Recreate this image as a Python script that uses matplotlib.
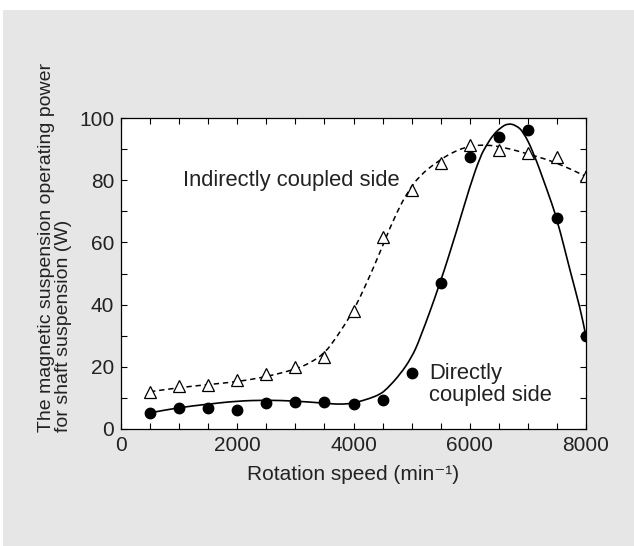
import matplotlib.pyplot as plt
from matplotlib.patches import Rectangle, PathPatch
from matplotlib.path import Path

plt.rcParams['font.family'] = ['Liberation Sans', 'DejaVu Sans']

# measured points
speed = [500, 1000, 1500, 2000, 2500, 3000, 3500, 4000,
         4500, 5000, 5500, 6000, 6500, 7000, 7500, 8000]
indirect = [12.0, 13.8, 14.1, 15.8, 17.7, 20.0, 23.2, 38.0,
            61.6, 76.8, 85.4, 91.3, 89.7, 88.8, 87.5, 81.3]
direct_speed = [500, 1000, 1500, 2000, 2500, 3000, 3500, 4000,
                4500, 5500, 6000, 6500, 7000, 7500, 8000]
direct = [5.0, 6.6, 6.6, 6.1, 8.3, 8.8, 8.8, 8.0,
          9.3, 47.0, 87.5, 94.0, 96.0, 68.0, 30.0]

# fitted curves
ind_curve_x = [500, 1000, 1500, 2000, 2500, 3000, 3250, 3500, 3710, 4000,
               4230, 4460, 4690, 4920, 5140, 5430, 5720, 6000, 6290, 6580,
               7040, 7500, 7990]
ind_curve_y = [12.0, 13.3, 14.3, 15.2, 16.8, 19.2, 21.2, 24.3, 29.5, 38.0,
               47.0, 57.0, 67.5, 76.0, 81.5, 85.8, 89.2, 91.0, 91.4, 90.6,
               88.3, 85.6, 81.3]
dir_curve_x = [500, 1000, 1500, 2000, 2500, 3000, 3500, 3770, 4000, 4280,
               4460, 4570, 4800, 5000, 5140, 5490, 5780, 6000, 6180, 6290,
               6400, 6530, 6660, 6800, 6920, 7090, 7320, 7500, 7730, 7900,
               7995]
dir_curve_y = [5.2, 6.9, 8.0, 9.0, 9.3, 9.0, 8.3, 7.9, 8.3, 9.8,
               11.2, 12.8, 17.5, 23.0, 28.8, 46.8, 64.0, 77.9, 87.6, 91.3,
               94.5, 96.9, 98.3, 97.6, 95.6, 89.2, 77.4, 67.7, 50.6, 38.8,
               30.2]


def smooth_path(xs, ys):
    # quadratic bezier through midpoints, read points used as control points
    pts = list(zip(xs, ys))
    verts = [pts[0]]
    codes = [Path.MOVETO]
    mid = lambda a, b: ((a[0] + b[0]) / 2, (a[1] + b[1]) / 2)
    verts.append(mid(pts[0], pts[1]))
    codes.append(Path.LINETO)
    for i in range(1, len(pts) - 1):
        verts += [pts[i], mid(pts[i], pts[i + 1])]
        codes += [Path.CURVE3, Path.CURVE3]
    verts.append(pts[-1])
    codes.append(Path.LINETO)
    return Path(verts, codes)


fig = plt.figure(figsize=(6.34, 5.46), dpi=100)
fig.patch.set_facecolor('white')
fig.patches.append(Rectangle((3 / 634, 0), 1, 1 - 10 / 546, transform=fig.transFigure,
                             facecolor='#e6e6e6', edgecolor='none', zorder=-10))

ax = fig.add_axes([121 / 634, 1 - 429 / 546, 465 / 634, 311 / 546])
ax.set_facecolor('white')

tc = '#222222'
ax.add_patch(PathPatch(smooth_path(ind_curve_x, ind_curve_y), fill=False,
                       edgecolor='black', lw=1.1, linestyle=(0, (3.5, 2.5))))
ax.add_patch(PathPatch(smooth_path(dir_curve_x, dir_curve_y), fill=False,
                       edgecolor='black', lw=1.2))
ax.plot(speed, indirect, '^', mfc='white', mec='black', ms=9, mew=0.9, ls='none')
ax.plot(direct_speed, direct, 'o', color='black', ms=7.5, ls='none')

ax.set_xlim(0, 8000)
ax.set_ylim(0, 100)
ax.set_xticks(range(0, 8001, 2000))
ax.set_xticks(range(0, 8001, 500), minor=True)
ax.set_yticks(range(0, 101, 20))
ax.set_yticks(range(0, 101, 10), minor=True)
ax.tick_params(which='both', direction='in', top=True, right=True,
               length=4.5, width=0.8, colors='black', labelcolor=tc,
               labelsize=15)
ax.tick_params(axis='x', pad=5)
ax.tick_params(axis='y', pad=5)
for s in ax.spines.values():
    s.set_linewidth(0.9)

ax.text(1067, 80, 'Indirectly coupled side', fontsize=15.8, color=tc,
        ha='left', va='center')
ax.plot([5000], [18], 'o', color='black', ms=7.5)
ax.text(5300, 18, 'Directly', fontsize=15.8, color=tc, ha='left', va='center')
ax.text(5300, 10.9, 'coupled side', fontsize=15.8, color=tc, ha='left', va='center')

ax.set_xlabel('Rotation speed (min\u207b\u00b9)', fontsize=15, color=tc, labelpad=7)
fig.text(55 / 634, 1 - 432 / 546,
         'The magnetic suspension operating power\nfor shaft suspension (W)',
         rotation=90, fontsize=14, color=tc, ha='center', va='bottom',
         multialignment='left', linespacing=1.0)

fig.savefig('out.png', dpi=100)
